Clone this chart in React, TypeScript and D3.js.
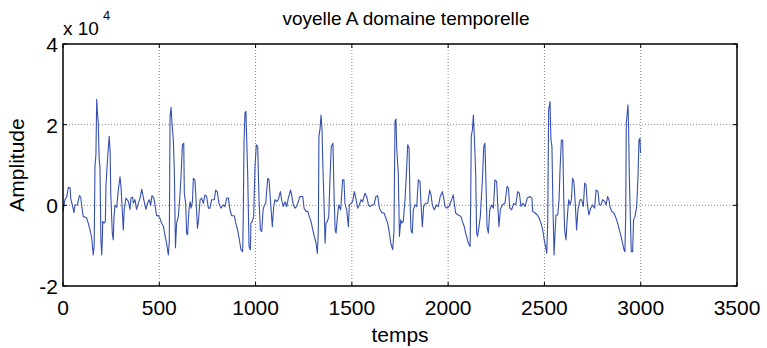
import React from "react";
import * as d3 from "d3";

const sampleIndex = [0,10,19,28,37,40,50,57,62,75,85,92,97,105,122,131,140,149,157,162,166,171,175,179,183,188,192,197,201,205,206,213,220,223,232,240,245,248,256,261,265,270,279,287,296,301,306,313,318,327,339,348,353,362,365,374,382,391,400,409,417,426,431,438,448,455,462,472,478,486,495,504,512,521,530,538,547,552,556,561,566,573,578,584,590,599,608,613,620,627,630,637,642,647,654,660,665,672,677,685,691,698,703,712,720,729,737,746,755,763,772,786,793,801,810,820,833,841,850,859,867,876,890,897,907,916,924,933,936,940,945,950,954,959,966,973,976,983,990,997,1004,1011,1018,1025,1032,1039,1046,1053,1063,1070,1077,1087,1094,1101,1110,1118,1129,1135,1144,1153,1162,1170,1182,1187,1196,1205,1213,1222,1231,1245,1252,1262,1271,1279,1288,1297,1305,1314,1321,1326,1329,1335,1340,1345,1350,1355,1361,1366,1373,1380,1387,1393,1402,1407,1413,1418,1425,1432,1442,1452,1459,1464,1473,1482,1487,1496,1504,1513,1522,1530,1539,1548,1556,1568,1577,1586,1594,1605,1615,1625,1634,1643,1655,1667,1677,1686,1695,1702,1712,1719,1724,1729,1733,1741,1747,1754,1760,1767,1776,1785,1790,1797,1802,1807,1814,1819,1828,1837,1845,1854,1859,1866,1873,1883,1894,1904,1911,1918,1928,1939,1949,1959,1970,1977,1984,1994,2004,2018,2027,2032,2039,2053,2067,2074,2084,2091,2098,2105,2114,2117,2120,2126,2131,2136,2143,2148,2153,2160,2167,2178,2185,2191,2197,2202,2209,2216,2226,2235,2243,2252,2257,2264,2271,2281,2295,2306,2313,2320,2330,2340,2351,2361,2370,2378,2389,2399,2411,2425,2435,2439,2451,2463,2473,2482,2491,2499,2506,2512,2517,2522,2529,2534,2539,2544,2550,2555,2560,2569,2576,2581,2588,2595,2600,2605,2612,2619,2626,2633,2640,2646,2653,2660,2667,2674,2685,2693,2702,2709,2716,2723,2731,2740,2750,2761,2768,2778,2785,2794,2802,2813,2820,2828,2835,2840,2849,2861,2872,2880,2889,2898,2906,2913,2918,2922,2925,2930,2934,2937,2941,2946,2951,2958,2963,2970,2979,2986,2991,2996,2999];

// amplitude in units of 1e4
const amplitude = [-0.15,0.14,0.2,0.45,0.43,0.18,-0.03,-0.18,0.01,0.01,0.24,0.2,0.0,-0.28,-0.3,-0.44,-0.6,-0.81,-1.23,-1.0,0.96,1.25,2.63,2.29,2.04,1.13,0.96,-0.86,-1.23,-0.75,-0.4,-0.44,-0.4,0.47,1.21,1.71,1.3,0.3,-0.69,-0.86,-0.28,0.0,-0.05,0.37,0.71,0.47,0.05,-0.61,-0.1,0.18,0.1,-0.1,0.18,0.2,0.05,0.14,-0.1,0.05,0.18,0.4,0.2,0.0,-0.1,0.04,0.14,0.0,0.24,0.18,0,-0.26,-0.25,-0.33,-0.44,-0.52,-0.75,-0.94,-1.23,-0.9,2.2,2.43,2.04,1.62,0.9,-1.05,-0.44,-0.28,0.3,0.72,1.5,1.54,0.3,0.05,-0.69,-0.73,-0.11,0.09,-0.07,0.09,0.67,0.63,0.14,-0.57,-0.4,0.14,0.18,0.05,0.26,0.22,-0.07,-0.07,0.14,0.14,0.38,0.34,0.05,-0.07,0.01,-0.03,0.18,0.18,-0.11,-0.26,-0.26,-0.44,-0.61,-0.86,-1.1,-1.15,-0.28,1.54,2.29,2.33,1.62,0.8,-1.02,-1.1,-0.44,-0.4,-0.28,0.96,1.5,1.46,0.14,-0.61,-0.65,-0.11,0.01,0.05,0.67,0.63,0.14,-0.53,-0.03,0.14,0.09,0.14,0.34,0.14,-0.03,0.09,-0.03,0.18,0.38,0.26,0.01,-0.07,-0.03,0.09,0.22,0.22,-0.07,-0.15,-0.15,-0.28,-0.4,-0.61,-0.77,-0.94,-1.19,-0.61,1.71,1.91,2.24,1.87,0.88,0.14,-0.94,-0.44,-0.4,-0.28,0.72,1.46,1.54,0.38,-0.61,-0.69,-0.28,0.01,-0.11,0.63,0.63,0.05,-0.11,-0.53,0.01,0.05,0.09,0.34,0.14,-0.07,0.01,0.14,0.09,0.3,0.22,0.01,-0.03,0.01,0.01,0.22,0.24,-0.07,-0.18,-0.19,-0.32,-0.44,-0.69,-0.94,-1.1,-0.61,2.08,2.14,1.42,0.8,-0.77,-0.36,-0.44,-0.4,0.14,0.96,1.5,1.42,0.14,-0.61,-0.69,-0.11,0.01,-0.03,0.63,0.59,0.05,-0.53,-0.03,0.05,0.05,0.38,0.26,0.01,-0.11,0.01,-0.03,0.22,0.34,0.18,-0.03,-0.07,-0.03,0.14,0.26,0.05,-0.19,-0.24,-0.28,-0.4,-0.53,-0.69,-0.81,-0.94,-1.02,0.05,1.71,1.87,2.24,1.71,0.8,-0.69,-0.77,-0.53,-0.28,0.63,1.46,1.54,0.47,-0.53,-0.69,-0.11,0.01,-0.07,0.63,0.59,0.05,-0.53,-0.11,0.01,0.05,0.47,0.43,-0.07,-0.11,0.05,0.01,0.34,0.3,-0.03,0.05,-0.03,0.18,0.22,0.18,-0.15,-0.19,-0.24,-0.32,-0.44,-0.61,-0.86,-1.02,-1.19,-0.44,2.37,2.57,1.62,1.46,0.05,-1.23,-0.69,-0.24,-0.24,0.14,0.88,1.62,1.62,0.22,-0.61,-0.86,-0.28,0.14,0.01,0.14,0.67,0.59,0.05,-0.61,-0.11,0.14,0.14,-0.03,0.55,0.51,0.01,-0.24,-0.07,0.01,-0.07,0.38,0.34,0.01,0.01,0.14,0.09,0.01,0.22,0.14,-0.03,-0.15,-0.19,-0.32,-0.44,-0.61,-0.77,-0.94,-1.1,-1.15,-0.28,2.04,2.29,2.49,1.95,0.72,-0.28,-1.15,-1.15,-0.36,-0.28,-0.03,0.72,1.62,1.66,1.3];

const xTicks = [0, 500, 1000, 1500, 2000, 2500, 3000, 3500];
const yTicks = [-2, 0, 2, 4];
const titleText = "voyelle A domaine temporelle";
const xLabelText = "temps";
const yLabelText = "Amplitude";

const W = 767, H = 348;
const L = 63, R = 737, T = 44, B = 286;
const FONT = "'Liberation Sans', Arial, sans-serif";

export default function App() {
  const x = d3.scaleLinear().domain([0, 3500]).range([L, R]);
  const y = d3.scaleLinear().domain([-2, 4]).range([B, T]);
  const pts = sampleIndex.map((t, i) => [t, amplitude[i]] as [number, number]);
  const line = d3.line<[number, number]>().x(d => x(d[0])).y(d => y(d[1]));
  const tk = 4;
  return (
    <div style={{ position: "fixed", left: 0, top: 0, width: W, height: H, background: "#fff" }}>
      <svg width={W} height={H} style={{ display: "block" }} fontFamily={FONT}>
        <rect x={0} y={0} width={W} height={H} fill="#fff" />
        {xTicks.slice(1, -1).map(v => (
          <line key={"gx" + v} x1={x(v)} x2={x(v)} y1={T} y2={B} stroke="#8a8a8a" strokeWidth={1} strokeDasharray="1,2" />
        ))}
        {yTicks.slice(1, -1).map(v => (
          <line key={"gy" + v} x1={L} x2={R} y1={y(v)} y2={y(v)} stroke="#8a8a8a" strokeWidth={1} strokeDasharray="1,2" />
        ))}
        <path d={line(pts) || ""} fill="none" stroke="#3650b0" strokeWidth={1.1} strokeLinejoin="round" />
        <rect x={L} y={T} width={R - L} height={B - T} fill="none" stroke="#000" strokeWidth={1.5} />
        {xTicks.map(v => (
          <g key={"tx" + v}>
            <line x1={x(v)} x2={x(v)} y1={B} y2={B - tk} stroke="#000" />
            <line x1={x(v)} x2={x(v)} y1={T} y2={T + tk} stroke="#000" />
            <text x={x(v)} y={315} textAnchor="middle" fontSize={21}>{v}</text>
          </g>
        ))}
        {yTicks.map(v => (
          <g key={"ty" + v}>
            <line x1={L} x2={L + tk} y1={y(v)} y2={y(v)} stroke="#000" />
            <line x1={R} x2={R - tk} y1={y(v)} y2={y(v)} stroke="#000" />
            <text x={58} y={y(v) + 8} textAnchor="end" fontSize={21}>{v}</text>
          </g>
        ))}
        <text x={63} y={35} fontSize={19}>x 10</text>
        <text x={103} y={20} fontSize={13}>4</text>
        <text x={406} y={25} textAnchor="middle" fontSize={19}>{titleText}</text>
        <text x={400} y={342} textAnchor="middle" fontSize={21}>{xLabelText}</text>
        <text transform={`translate(24,${(T + B) / 2}) rotate(-90)`} textAnchor="middle" fontSize={21}>{yLabelText}</text>
      </svg>
    </div>
  );
}
